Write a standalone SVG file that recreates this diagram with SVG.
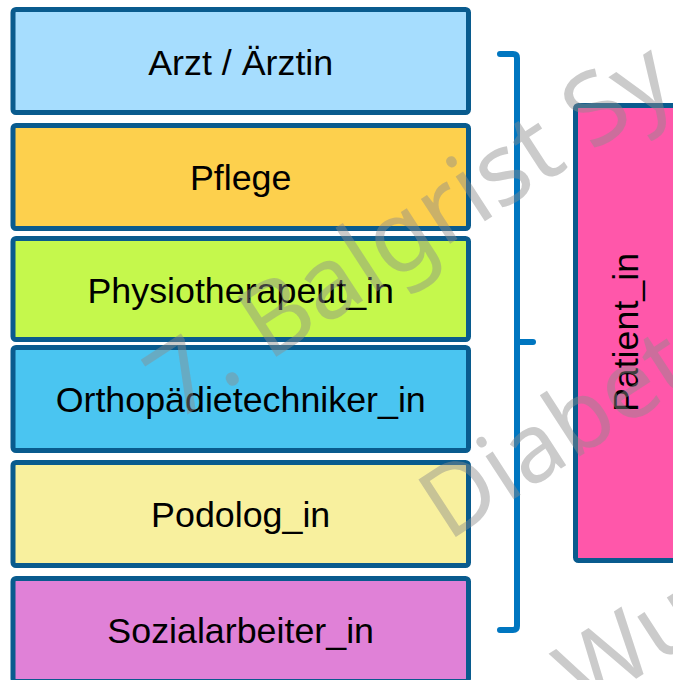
<svg xmlns="http://www.w3.org/2000/svg" width="673" height="680" viewBox="0 0 673 680">
<style>
.box{stroke:#095B8E;stroke-width:5}
.lbl{font-family:"Liberation Sans",Arial,sans-serif;font-size:35.8px;fill:#000;text-anchor:middle}
.wm{font-family:"Noto Sans","Open Sans",sans-serif;font-size:96px;fill:#8c8c8c;fill-opacity:0.45}
.br{fill:none;stroke:#0076C0;stroke-width:6;stroke-linecap:round;stroke-linejoin:round}
</style>
<rect width="673" height="680" fill="#fff"/>
<g id="arzt"><rect class="box" x="13" y="9.5" width="455.5" height="103" rx="3" fill="#A6DDFE"/><text class="lbl" x="240.7" y="75">Arzt / Ärztin</text></g>
<g id="pflege"><rect class="box" x="13" y="125.5" width="455.5" height="103" rx="3" fill="#FDD04D"/><text class="lbl" x="240.7" y="190">Pflege</text></g>
<g id="physio"><rect class="box" x="13" y="238.5" width="455.5" height="101" rx="3" fill="#C5F84C"/><text class="lbl" x="240.7" y="303">Physiotherapeut_in</text></g>
<g id="ortho"><rect class="box" x="13" y="347.5" width="455.5" height="103" rx="3" fill="#4AC5F1"/><text class="lbl" x="240.7" y="412">Orthopädietechniker_in</text></g>
<g id="podolog"><rect class="box" x="13" y="462.5" width="455.5" height="103" rx="3" fill="#F8F09E"/><text class="lbl" x="240.7" y="527">Podolog_in</text></g>
<g id="sozial"><rect class="box" x="13" y="578.5" width="455.5" height="103" rx="3" fill="#E081D7"/><text class="lbl" x="240.7" y="643">Sozialarbeiter_in</text></g>
<g id="patient"><rect class="box" x="575.5" y="105.5" width="110" height="455" rx="3" fill="#FF57AA"/><text class="lbl" transform="translate(638,332.5) rotate(-90)" x="0" y="0">Patient_in</text></g>
<g id="connectors">
<path class="br" d="M500,54 H513 Q517,54 517,58 V626 Q517,630 513,630 H500"/>
<path class="br" d="M517,342 H533"/>
</g>
<g id="watermark">
<text class="wm" transform="translate(176,422) rotate(-33)" style="font-size:100px">7. Balgrist Sy</text>
<text class="wm" transform="translate(448,542) rotate(-33)">Diabet</text>
<text class="wm" transform="translate(585,712) rotate(-33)">Wun</text>
</g>
</svg>
